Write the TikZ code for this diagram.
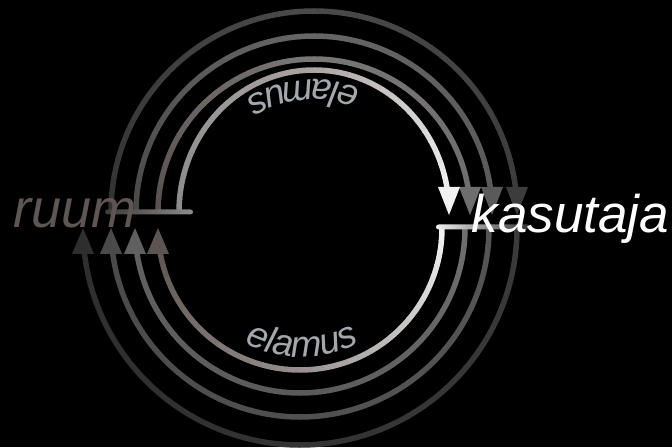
\documentclass[tikz,border=0pt]{standalone}
\usepackage{fontspec}
\setmainfont{Liberation Sans}
\usetikzlibrary{decorations.text}
\definecolor{ruumgray}{HTML}{5E5654}
\definecolor{elamusgray}{HTML}{A4A8AC}
\definecolor{bardark}{HTML}{3E3A38}
\definecolor{barlight}{HTML}{8C8C8C}
\definecolor{barwhite}{HTML}{F2F2F2}
\definecolor{barblack}{HTML}{333333}

\begin{document}
\begin{tikzpicture}[x=1pt,y=1pt,line width=5.5pt]

\fill[black] (0,0) rectangle (672,447);

\foreach \rx/\ry/\ca/\cb/\cc in {203/201/333333/4A4A4A/3C3C3C,178/176/4A4A4A/666666/5A5A5A,156/153/5A5250/7A7676/6E6E6E,135/142/8C8C8C/A8A2A0/F2F2F2} {
  \definecolor{ca}{HTML}{\ca}
  \definecolor{cb}{HTML}{\cb}
  \definecolor{cc}{HTML}{\cc}
  \foreach \k in {0,...,34} {
    \pgfmathsetmacro\a{180-5*\k}
    \pgfmathsetmacro\b{\a-5.3}
    \pgfmathtruncatemacro\p{min(100,\k*200/34)}
    \pgfmathtruncatemacro\q{100-max(0,\k*200/34-100)}
    \draw[color={cb!\p!ca!\q!cc}] ([shift={(314,235)}]\a:\rx pt and \ry pt) arc[start angle=\a, end angle=\b, x radius=\rx pt, y radius=\ry pt];
  }
  \fill[cc] (314+\rx-11,260) -- (314+\rx+11,260) -- (314+\rx,232) -- cycle;
}

\foreach \r/\ca/\cb/\cc in {217/3A3A3A/333333/2E2E2E,189/555555/505050/4A4A4A,165/6E6E6E/5A5A5A/606060,142/F2F2F2/9A9292/5C5450} {
  \definecolor{ca}{HTML}{\ca}
  \definecolor{cb}{HTML}{\cb}
  \definecolor{cc}{HTML}{\cc}
  \foreach \k in {0,...,34} {
    \pgfmathsetmacro\a{-5*\k}
    \pgfmathsetmacro\b{\a-5.3}
    \pgfmathtruncatemacro\p{min(100,\k*200/34)}
    \pgfmathtruncatemacro\q{100-max(0,\k*200/34-100)}
    \draw[color={cb!\p!ca!\q!cc}] ([shift={(300,219)}]\a:\r pt) arc[start angle=\a, end angle=\b, radius=\r pt];
  }
  \fill[cc] (300-\r-11,193) -- (300-\r+11,193) -- (300-\r,219) -- cycle;
}

\shade[left color=bardark, right color=barlight, rounded corners=2.5pt] (105,232.5) rectangle (193,237.5);
\shade[left color=barwhite, right color=barblack, rounded corners=2.5pt] (436,217.5) rectangle (530,222.5);

\path[decorate, decoration={text along path, text color=elamusgray, text align=center,
  text={|\fontsize{37}{37}\selectfont\itshape|elamus}}]
  ([shift={(313,235)}]5:132pt) arc[start angle=5, end angle=185, radius=132pt];
\path[decorate, decoration={text along path, text color=elamusgray, text align=center,
  text={|\fontsize{37}{37}\selectfont\itshape|elamus}}]
  ([shift={(302,219)}]180:129pt) arc[start angle=180, end angle=360, radius=129pt];

\node[anchor=base west, inner sep=0, text=ruumgray, font=\fontsize{54}{54}\selectfont\itshape] (ruum) at (11,219) {ruum};
\node[anchor=base west, inner sep=0, text=white, font=\fontsize{53}{53}\selectfont\itshape] (kasutaja) at (469,214) {kasutaja};

\end{tikzpicture}
\end{document}
